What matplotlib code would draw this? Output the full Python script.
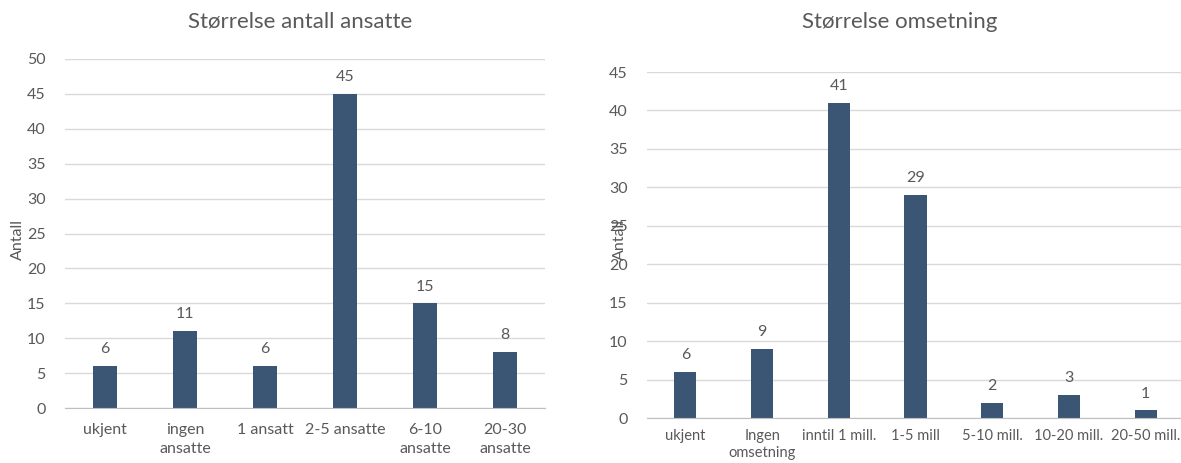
import matplotlib
matplotlib.use("Agg")
import matplotlib.pyplot as plt

plt.rcParams['font.family'] = ['Lato', 'DejaVu Sans']

# Data
cats_ansatte = ["ukjent", "ingen\nansatte", "1 ansatt", "2-5 ansatte", "6-10\nansatte", "20-30\nansatte"]
vals_ansatte = [6, 11, 6, 45, 15, 8]
cats_oms = ["ukjent", "Ingen\nomsetning", "inntil 1 mill.", "1-5 mill", "5-10 mill.", "10-20 mill.", "20-50 mill."]
vals_oms = [6, 9, 41, 29, 2, 3, 1]
title_left = "Størrelse antall ansatte"
title_right = "Størrelse omsetning"
ylabel = "Antall"

W, H = 1181, 463
fig = plt.figure(figsize=(W / 100, H / 100), dpi=100)

BAR = "#3A5674"
TXT = "#595959"
GRID = "#D9D9D9"


def px_axes(x0, x1, y_top, y_bottom):
    return fig.add_axes([x0 / W, (H - y_bottom) / H, (x1 - x0) / W, (y_bottom - y_top) / H])


def style(ax, cats, vals, ymax, bw, title, title_xy, ylab_xy, fs, xpad, ls):
    x = range(len(cats))
    ax.bar(x, vals, width=bw, color=BAR, zorder=3)
    ax.set_xlim(-0.5, len(cats) - 0.5)
    ax.set_ylim(0, ymax)
    ax.set_yticks(range(0, ymax + 1, 5))
    ax.set_xticks(list(x))
    ax.set_xticklabels(cats, fontsize=fs, color=TXT, linespacing=ls)
    ax.tick_params(axis='y', labelsize=11.5, colors=TXT, length=0, pad=14)
    ax.tick_params(axis='x', length=0, pad=xpad)
    for lab in ax.get_yticklabels():
        lab.set_color(TXT)
    ax.grid(axis='y', color=GRID, linewidth=1, zorder=0)
    for s in ['top', 'right', 'left']:
        ax.spines[s].set_visible(False)
    ax.spines['bottom'].set_color("#BFBFBF")
    ax.spines['bottom'].set_zorder(4)
    for xi, v in zip(x, vals):
        ax.annotate(str(v), (xi, v), xytext=(0, 7), textcoords='offset points',
                    ha='center', va='bottom', fontsize=11.5, color=TXT)
    fig.text(title_xy[0] / W, 1 - title_xy[1] / H, title, ha='center', va='center',
             fontsize=16, color=TXT)
    fig.text(ylab_xy[0] / W, 1 - ylab_xy[1] / H, ylabel, ha='center', va='center',
             rotation=90, fontsize=11.5, color=TXT)


ax1 = px_axes(65, 545, 59, 408)
style(ax1, cats_ansatte, vals_ansatte, 50, 0.31, title_left, (300, 22), (18, 240), 11.5, 11, 1.4)

ax2 = px_axes(647, 1184, 72, 418)
style(ax2, cats_oms, vals_oms, 45, 0.29, title_right, (900, 22), (620, 240), 10.5, 8, 1.3)

fig.savefig("out.png", dpi=100)
